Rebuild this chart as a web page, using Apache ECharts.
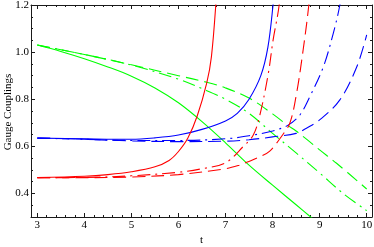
<!DOCTYPE html>
<html>
<head>
<meta charset="utf-8">
<script src="https://cdn.jsdelivr.net/npm/echarts@6/dist/echarts.min.js"></script>
<style>
html,body{margin:0;padding:0;background:#fff;}
#c{width:374px;height:247px;}
</style>
</head>
<body>
<div id="c"></div>
<script>
// ---- data ----
const xMajorTicks = [3, 4, 5, 6, 7, 8, 9, 10];
const xMinorTicks = [3.2,3.4,3.6,3.8,4.2,4.4,4.6,4.8,5.2,5.4,5.6,5.8,6.2,6.4,6.6,6.8,7.2,7.4,7.6,7.8,8.2,8.4,8.6,8.8,9.2,9.4,9.6,9.8];
const yMajorTicks = [0.4, 0.6, 0.8, 1.0, 1.2];
const yMinorTicks = [0.35,0.45,0.5,0.55,0.65,0.7,0.75,0.85,0.9,0.95,1.05,1.1,1.15];

const redSolidT  = [3, 4, 4.5, 5, 5.5, 5.8, 6, 6.2, 6.4, 6.6, 6.7, 6.8, 6.85];
const redSolidG  = [0.467, 0.473, 0.48, 0.492, 0.513, 0.54, 0.578, 0.635, 0.73, 0.868, 0.98, 1.22, 1.4];
const redDashDotT = [3, 4, 5, 6, 6.5, 7, 7.38, 7.59, 7.73, 7.91, 8.01, 8.14, 8.2];
const redDashDotG = [0.467, 0.468, 0.475, 0.49, 0.505, 0.53, 0.6, 0.648, 0.733, 0.91, 1.05, 1.2, 1.35];
const redDashedT = [3, 4, 5, 6, 7, 7.31, 7.45, 7.73, 7.94, 8.2, 8.37, 8.51, 8.65, 8.77, 8.83];
const redDashedG = [0.467, 0.467, 0.47, 0.48, 0.505, 0.521, 0.532, 0.556, 0.58, 0.645, 0.70, 0.825, 1.01, 1.2, 1.35];

const blueSolidT = [3, 4, 5, 5.5, 6, 6.5, 7, 7.25, 7.5, 7.75, 7.9, 8.01, 8.05];
const blueSolidG = [0.635, 0.632, 0.63, 0.636, 0.648, 0.672, 0.708, 0.74, 0.80, 0.90, 1.02, 1.2, 1.3];
const blueDashDotT = [3, 4, 5, 6, 7, 7.5, 8, 8.33, 8.58, 8.79, 9.08, 9.29, 9.43, 9.5];
const blueDashDotG = [0.635, 0.63, 0.625, 0.625, 0.632, 0.645, 0.665, 0.69, 0.733, 0.81, 0.938, 1.08, 1.2, 1.3];
const blueDashedT = [3, 4, 5, 6, 7, 7.5, 8, 8.5, 8.72, 9, 9.43, 9.79, 10];
const blueDashedG = [0.635, 0.63, 0.623, 0.62, 0.622, 0.628, 0.64, 0.655, 0.677, 0.712, 0.797, 0.938, 1.073];

const greenSolidT = [3, 3.5, 4, 4.5, 5, 5.5, 6, 6.5, 7, 7.5, 8, 8.5, 8.81, 9];
const greenSolidG = [1.03, 1.003, 0.972, 0.937, 0.898, 0.848, 0.785, 0.705, 0.615, 0.52, 0.435, 0.352, 0.30, 0.268];
const greenDashDotT = [3, 4, 5, 6, 6.5, 7, 7.5, 8, 8.5, 9, 9.5, 10];
const greenDashDotG = [1.03, 0.99, 0.945, 0.885, 0.845, 0.80, 0.74, 0.655, 0.572, 0.487, 0.40, 0.327];
const greenDashedT = [3, 4, 5, 6, 6.6, 7, 7.5, 8, 8.3, 8.5, 8.76, 9, 9.36, 10];
const greenDashedG = [1.03, 0.99, 0.946, 0.9, 0.872, 0.848, 0.805, 0.738, 0.692, 0.665, 0.624, 0.585, 0.528, 0.419];

const xTitle = 't';
const yTitle = 'Gauge Couplings';

// ---- chart ----
const X_MIN = 2.866, X_MAX = 10.113, Y_MIN = 0.3, Y_MAX = 1.2;
const FONT = 'Liberation Serif';
const frameColor = '#1a1a1a';
const GRID = { left: 31, right: 2, top: 5, bottom: 30 };
const W = 374, H = 247;

function zip(t, g) { return t.map((v, i) => [v, g[i]]); }

function xAx(pos, ticks, len, labels, line) {
  return {
    type: 'value', min: X_MIN, max: X_MAX, position: pos,
    axisLine: { show: line, onZero: false, lineStyle: { color: frameColor, width: 1 } },
    axisTick: { show: true, inside: true, length: len, customValues: ticks, lineStyle: { color: frameColor, width: 1 } },
    axisLabel: labels ? { show: true, customValues: ticks, margin: 3, color: '#000', fontFamily: FONT, fontSize: 11, formatter: v => String(Math.round(v)) } : { show: false },
    splitLine: { show: false }
  };
}
function yAx(pos, ticks, len, labels, line) {
  return {
    type: 'value', min: Y_MIN, max: Y_MAX, position: pos,
    axisLine: { show: line, onZero: false, lineStyle: { color: frameColor, width: 1 } },
    axisTick: { show: true, inside: true, length: len, customValues: ticks, lineStyle: { color: frameColor, width: 1 } },
    axisLabel: labels ? { show: true, customValues: ticks, margin: 2, color: '#000', fontFamily: FONT, fontSize: 11, formatter: v => v.toFixed(1) } : { show: false },
    splitLine: { show: false }
  };
}

const RED = '#ff0000', BLUE = '#0000ff', GREEN = '#00ff00';
const DASH = [13, 6];
const DASHDOT = [13, 5, 2, 5];

function line(t, g, color, dash) {
  return {
    type: 'line', data: zip(t, g), xAxisIndex: 0, yAxisIndex: 0,
    showSymbol: false, smooth: 0.35, clip: true, silent: true,
    lineStyle: { color: color, width: 1.1, type: dash || 'solid' }
  };
}

const gridMidX = GRID.left + (W - GRID.left - GRID.right) / 2;
const gridMidY = GRID.top + (H - GRID.top - GRID.bottom) / 2;

const chart = echarts.init(document.getElementById('c'), null, { renderer: 'canvas' });
chart.setOption({
  animation: false,
  backgroundColor: '#fff',
  grid: Object.assign({ containLabel: false, outerBoundsMode: 'none' }, GRID),
  xAxis: [
    xAx('bottom', xMajorTicks, 4, true, true),
    xAx('bottom', xMinorTicks, 2, false, false),
    xAx('top', xMajorTicks, 4, false, true),
    xAx('top', xMinorTicks, 2, false, false)
  ],
  yAxis: [
    yAx('left', yMajorTicks, 4, true, true),
    yAx('left', yMinorTicks, 2, false, false),
    yAx('right', yMajorTicks, 4, false, true),
    yAx('right', yMinorTicks, 2, false, false)
  ],
  graphic: [
    { type: 'text', x: gridMidX, y: 240, silent: true,
      style: { text: xTitle, fill: '#000', font: '11px "Liberation Serif"', align: 'center', verticalAlign: 'middle' } },
    { type: 'text', x: 8, y: gridMidY + 1, rotation: Math.PI / 2, silent: true,
      style: { text: yTitle, fill: '#000', font: '11px "Liberation Serif"', align: 'center', verticalAlign: 'middle' } }
  ],
  series: [
    line(greenSolidT, greenSolidG, GREEN),
    line(greenDashedT, greenDashedG, GREEN, DASH),
    line(greenDashDotT, greenDashDotG, GREEN, DASHDOT),
    line(blueSolidT, blueSolidG, BLUE),
    line(blueDashedT, blueDashedG, BLUE, DASH),
    line(blueDashDotT, blueDashDotG, BLUE, DASHDOT),
    line(redSolidT, redSolidG, RED),
    line(redDashedT, redDashedG, RED, DASH),
    line(redDashDotT, redDashDotG, RED, DASHDOT)
  ]
});
</script>
</body>
</html>
